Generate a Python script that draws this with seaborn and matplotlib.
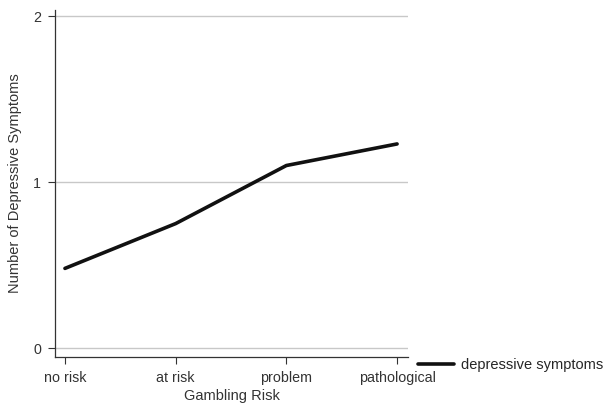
import numpy as np
import pandas as pd
import matplotlib
matplotlib.use("Agg")
import matplotlib.pyplot as plt
import seaborn as sns

# values
risk_levels = ["no risk", "at risk", "problem", "pathological"]
symptoms = [0.48, 0.75, 1.10, 1.23]
y_ticks = [0, 1, 2]

df = pd.DataFrame({"risk": np.arange(len(risk_levels)), "symptoms": symptoms,
                   "series": "depressive symptoms"})

sns.set_style("white")
plt.rcParams["font.family"] = ["Liberation Sans", "DejaVu Sans"]

fig = plt.figure(figsize=(6.11, 4.08), dpi=100)
ax = fig.add_axes([0.09, 0.125, 0.578, 0.85])

for yv in y_ticks:
    ax.axhline(yv, color="#c8c8c8", lw=1.0, zorder=0)

sns.lineplot(data=df, x="risk", y="symptoms", hue="series", palette=["#111111"],
             linewidth=2.6, ax=ax, legend=False)

ax.set_xlim(-0.09, 3.1)
ax.set_ylim(-0.054, 2.036)
ax.set_xticks(range(len(risk_levels)))
ax.set_xticklabels(risk_levels)
ax.set_yticks(y_ticks)
ax.set_xlabel("Gambling Risk", fontsize=10.5, color="#333333", labelpad=3)
ax.set_ylabel("Number of Depressive Symptoms", fontsize=10.5, color="#333333", labelpad=8)
ax.tick_params(axis="both", labelsize=10.3, colors="#333333", length=5, width=0.8,
               direction="out", bottom=True, left=True, pad=5)

for side in ["top", "right"]:
    ax.spines[side].set_visible(False)
for side in ["left", "bottom"]:
    ax.spines[side].set_color("#333333")
    ax.spines[side].set_linewidth(0.9)

handle = plt.Line2D([], [], color="#111111", lw=2.6)
fig.legend([handle], ["depressive symptoms"], loc="center left",
           bbox_to_anchor=(418 / 611, 1 - 365 / 408), frameon=False, fontsize=10.5,
           handlelength=2.5, handletextpad=0.45, borderaxespad=0, borderpad=0)

fig.savefig("out.png", dpi=100)
